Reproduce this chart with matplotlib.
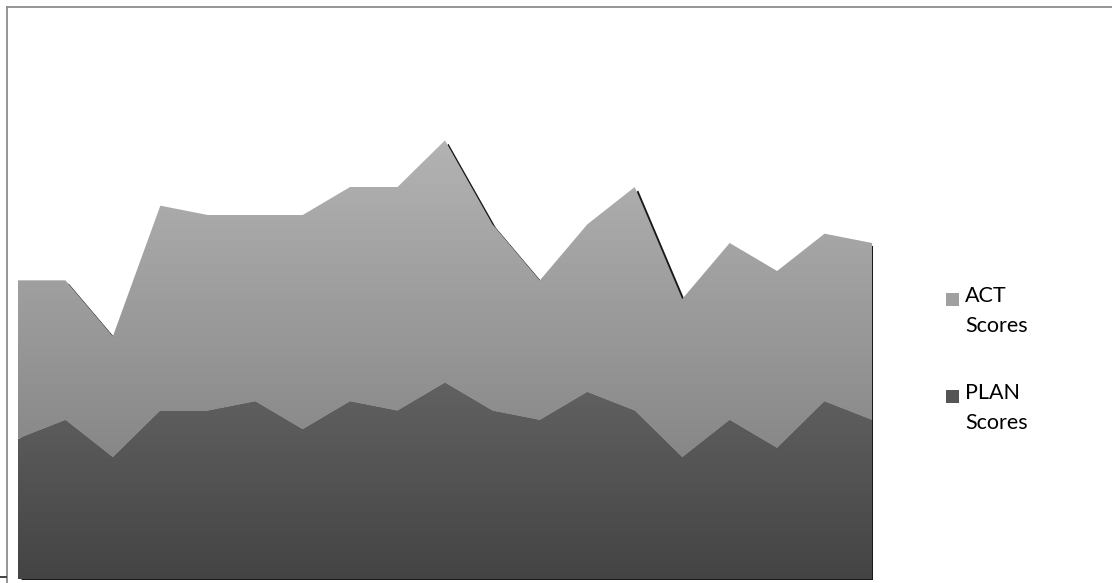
import numpy as np
import matplotlib.pyplot as plt
import matplotlib.transforms as mtransforms
from matplotlib.colors import LinearSegmentedColormap
from matplotlib.patches import Rectangle
from matplotlib.lines import Line2D

# data (19 test dates, stacked)
points = list(range(1, 20))
plan_scores = [15, 17, 13, 18, 18, 19, 16, 19, 18, 21, 18, 17, 20, 18, 13, 17, 14, 19, 17]
act_scores = [17, 15, 13, 22, 21, 20, 23, 23, 24, 26, 20, 15, 18, 24, 17, 19, 19, 18, 19]
series_names = ["ACT\nScores", "PLAN\nScores"]

W, H = 1112, 583
fig = plt.figure(figsize=(W / 100, H / 100), dpi=100)
ax = fig.add_axes([18 / W, 4 / H, (872 - 18) / W, (579 - 19) / H])

x = np.arange(len(points))
plan = np.array(plan_scores, dtype=float)
total = plan + np.array(act_scores, dtype=float)

# drop shadow behind the whole stack
shadow_tr = ax.transData + mtransforms.ScaledTranslation(3 / 100, -3 / 100, fig.dpi_scale_trans)
ax.fill_between(x, 0, total, color="black", alpha=0.9, lw=0, transform=shadow_tr, zorder=1)


def gradient_fill(lower, upper, top_col, bot_col):
    poly = ax.fill_between(x, lower, upper, color="none", lw=0, zorder=2)
    cmap = LinearSegmentedColormap.from_list("g", [bot_col, top_col])
    lo, hi = lower.min(), upper.max()
    grad = np.linspace(0, 1, 256).reshape(-1, 1)
    im = ax.imshow(grad, cmap=cmap, origin="lower", aspect="auto",
                   extent=[x[0], x[-1], lo, hi], zorder=2, interpolation="bilinear")
    path = poly.get_paths()[0]
    im.set_clip_path(path, transform=ax.transData)


gradient_fill(np.zeros_like(plan), plan, "#616161", "#444444")
gradient_fill(plan, total, "#b3b3b3", "#878787")

ax.set_xlim(x[0], x[-1])
ax.set_ylim(0, 60)
ax.axis("off")

# outer frame (left and top only, chart is cropped)
fig.add_artist(Line2D([7 / W, 7 / W], [0, 1 - 7 / H], color="#8c8c8c", lw=1.3))
fig.add_artist(Line2D([7 / W, 1], [1 - 7 / H, 1 - 7 / H], color="#8c8c8c", lw=1.3))
fig.add_artist(Line2D([0, 6 / W], [1 - 577 / H, 1 - 577 / H], color="#333333", lw=1.3))

# legend
legend_cols = ["#a0a0a0", "#555555"]
legend_y = [291, 388]
for name, col, yt in zip(series_names, legend_cols, legend_y):
    fig.add_artist(Rectangle((946 / W, 1 - (yt + 15) / H), 13 / W, 13 / H,
                             facecolor=col, edgecolor="none"))
    fig.text(965 / W, 1 - (yt - 5) / H, name, ha="left", va="top",
             fontsize=15.5, family="Lato", color="#000000", linespacing=1.65)

fig.savefig("out.png", dpi=100, facecolor="white")
